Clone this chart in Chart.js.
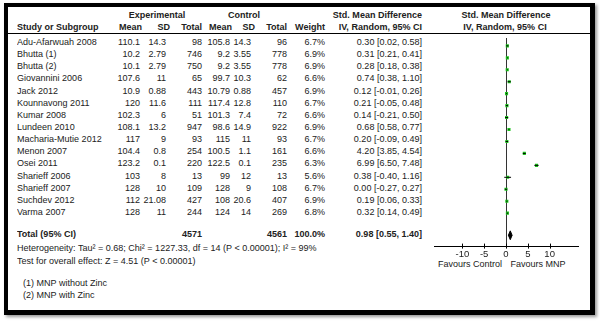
<!DOCTYPE html>
<html>
<head>
<meta charset="utf-8">
<script src="https://cdn.jsdelivr.net/npm/chart.js@4.4.1/dist/chart.umd.min.js"></script>
<style>
  body { margin: 0; background: #fff; width: 600px; height: 322px; overflow: hidden; }
  #frame { position: absolute; left: 4px; top: 3px; width: 582px; height: 303px;
           border: 4px solid #000; border-right-width: 5px; border-bottom-width: 5px;
           box-shadow: 2px 2px 3px #999; }
  #hline { position: absolute; left: 8px; top: 33px; width: 582px; height: 1px; background: #000; }
  .t { position: absolute; font: 9.8px "Liberation Sans", Arial, sans-serif; color: #222;
       line-height: 12px; white-space: nowrap; }
  .b { font-weight: bold; }
  #wrap { position: absolute; left: 430px; top: 34px; width: 152px; height: 228px; }
</style>
</head>
<body>
<div id="frame"></div>
<div id="hline"></div>
<div id="texts"></div>
<div id="wrap"><canvas id="forest" width="152" height="228"></canvas></div>
<script>
const studies = ['Adu-Afarwuah 2008', 'Bhutta (1)', 'Bhutta (2)', 'Giovannini 2006', 'Jack 2012',
  'Kounnavong 2011', 'Kumar 2008', 'Lundeen 2010', 'Macharia-Mutie 2012', 'Menon 2007',
  'Osei 2011', 'Sharieff 2006', 'Sharieff 2007', 'Suchdev 2012', 'Varma 2007'];
const expMean = ['110.1', '10.2', '10.1', '107.6', '10.9', '120', '102.3', '108.1', '117', '104.4', '123.2', '103', '128', '112', '128'];
const expSD = ['14.3', '2.79', '2.79', '11', '0.88', '11.6', '6', '13.2', '9', '0.8', '0.1', '8', '10', '21.08', '11'];
const expTotal = [98, 746, 750, 65, 443, 111, 51, 947, 93, 254, 220, 13, 109, 427, 244];
const ctlMean = ['105.8', '9.2', '9.2', '99.7', '10.79', '117.4', '101.3', '98.6', '115', '100.5', '122.5', '99', '128', '108', '124'];
const ctlSD = ['14.3', '3.55', '3.55', '10.3', '0.88', '12.8', '7.4', '14.9', '11', '1.1', '0.1', '12', '9', '20.6', '14'];
const ctlTotal = [96, 778, 778, 62, 457, 110, 72, 922, 93, 161, 235, 13, 108, 407, 269];
const weights = ['6.7%', '6.9%', '6.9%', '6.6%', '6.9%', '6.7%', '6.6%', '6.9%', '6.7%', '6.6%', '6.3%', '5.6%', '6.7%', '6.9%', '6.8%'];
const smd = [0.30, 0.31, 0.28, 0.74, 0.12, 0.21, 0.14, 0.68, 0.20, 4.20, 6.99, 0.38, 0.00, 0.19, 0.32];
const ciLow = [0.02, 0.21, 0.18, 0.38, -0.01, -0.05, -0.21, 0.58, -0.09, 3.85, 6.50, -0.40, -0.27, 0.06, 0.14];
const ciHigh = [0.58, 0.41, 0.38, 1.10, 0.26, 0.48, 0.50, 0.77, 0.49, 4.54, 7.48, 1.16, 0.27, 0.33, 0.49];
const totalSmd = 0.98, totalLow = 0.55, totalHigh = 1.40;
const xTicks = [-10, -5, 0, 5, 10];

// layout
const rowTop = 42, rowH = 12.14;
const totalRow = 15.85;      // position of the Total line in row units
const diamondHalf = 0.37;
const squeeze = 0.92;        // the original text is a little narrow

const texts = document.getElementById('texts');
function put(txt, x, y, align, bold) {
  const d = document.createElement('div');
  d.className = 't' + (bold ? ' b' : '');
  d.textContent = txt;
  d.style.top = (y - 6) + 'px';
  d.style.left = x + 'px';
  if (align === 'r') {
    d.style.transformOrigin = '100% 50%';
    d.style.transform = `translateX(-100%) scaleX(${squeeze})`;
  } else if (align === 'c') {
    d.style.transformOrigin = '50% 50%';
    d.style.transform = `translateX(-50%) scaleX(${squeeze})`;
  } else {
    d.style.transformOrigin = '0 50%';
    d.style.transform = `scaleX(${squeeze})`;
  }
  texts.appendChild(d);
}
const fmt = v => v.toFixed(2);

// header
put('Experimental', 157, 15, 'c', true);
put('Control', 244, 15, 'c', true);
put('Std. Mean Difference', 421.5, 15, 'r', true);
put('Std. Mean Difference', 505.7, 15, 'c', true);
put('Study or Subgroup', 16.5, 27.3, 'l', true);
put('Mean', 141.5, 27.3, 'r', true);
put('SD', 170, 27.3, 'r', true);
put('Total', 201.7, 27.3, 'r', true);
put('Mean', 232, 27.3, 'r', true);
put('SD', 255, 27.3, 'r', true);
put('Total', 286.7, 27.3, 'r', true);
put('Weight', 325, 27.3, 'r', true);
put('IV, Random, 95% CI', 421.5, 27.3, 'r', true);
put('IV, Random, 95% CI', 505, 27.3, 'c', true);

studies.forEach((s, i) => {
  const y = rowTop + i * rowH;
  put(s, 16.5, y, 'l');
  put(expMean[i], 140, y, 'r');
  put(expSD[i], 166, y, 'r');
  put(String(expTotal[i]), 201.7, y, 'r');
  put(ctlMean[i], 230, y, 'r');
  put(ctlSD[i], 250.5, y, 'r');
  put(String(ctlTotal[i]), 286.7, y, 'r');
  put(weights[i], 324.5, y, 'r');
  put(fmt(smd[i]) + ' [' + fmt(ciLow[i]) + ', ' + fmt(ciHigh[i]) + ']', 421.5, y, 'r');
});

const yTot = rowTop + totalRow * rowH;
put('Total (95% CI)', 16.5, yTot, 'l', true);
put(String(expTotal.reduce((a, b) => a + b, 0)), 201.7, yTot, 'r', true);
put(String(ctlTotal.reduce((a, b) => a + b, 0)), 286.7, yTot, 'r', true);
put('100.0%', 325, yTot, 'r', true);
put(fmt(totalSmd) + ' [' + fmt(totalLow) + ', ' + fmt(totalHigh) + ']', 421.5, yTot, 'r', true);
put('Heterogeneity: Tau\u00b2 = 0.68; Chi\u00b2 = 1227.33, df = 14 (P < 0.00001); I\u00b2 = 99%', 16.5, 247.7, 'l');
put('Test for overall effect: Z = 4.51 (P < 0.00001)', 16.5, 261, 'l');
put('(1) MNP without Zinc', 22.5, 282.7, 'l');
put('(2) MNP with Zinc', 22.5, 295, 'l');
put('Favours Control', 469.5, 264.3, 'c');
put('Favours MNP', 537.5, 264.3, 'c');

// chart data
const ciData = [];
studies.forEach((s, i) => {
  ciData.push({ x: ciLow[i], y: i }, { x: ciHigh[i], y: i }, { x: null, y: null });
});
const pointData = smd.map((v, i) => ({ x: v, y: i }));
const diamondData = [
  { x: totalLow, y: totalRow },
  { x: totalSmd, y: totalRow - diamondHalf },
  { x: totalHigh, y: totalRow },
  { x: totalSmd, y: totalRow + diamondHalf },
  { x: totalLow, y: totalRow }
];

const tickMarks = {
  id: 'tickMarks',
  afterDraw(chart) {
    const s = chart.scales.x, ctx = chart.ctx;
    ctx.save();
    ctx.strokeStyle = '#000';
    ctx.lineWidth = 1;
    s.ticks.forEach(t => {
      const px = Math.round(s.getPixelForValue(t.value)) + 0.5;
      ctx.beginPath();
      ctx.moveTo(px, s.top - 3);
      ctx.lineTo(px, s.top + 2);
      ctx.stroke();
    });
    ctx.restore();
  }
};

new Chart(document.getElementById('forest'), {
  type: 'scatter',
  data: {
    datasets: [
      {
        data: ciData,
        showLine: true,
        spanGaps: false,
        borderColor: '#000',
        borderWidth: 1,
        pointRadius: 0
      },
      {
        data: pointData,
        pointStyle: 'rect',
        pointRadius: 2.2,
        pointBorderWidth: 0,
        backgroundColor: '#1cc41c'
      },
      {
        data: diamondData,
        showLine: true,
        fill: 'shape',
        borderColor: '#000',
        borderWidth: 1,
        backgroundColor: '#000',
        pointRadius: 0,
        tension: 0
      }
    ]
  },
  options: {
    responsive: false,
    animation: false,
    layout: { padding: 0 },
    plugins: { legend: { display: false }, tooltip: { enabled: false } },
    scales: {
      x: {
        type: 'linear',
        min: -16.5,
        max: 16.5,
        afterBuildTicks: s => { s.ticks = xTicks.map(v => ({ value: v })); },
        grid: {
          drawTicks: false,
          lineWidth: 1,
          color: c => (c.tick && c.tick.value === 0) ? '#333' : 'rgba(0,0,0,0)'
        },
        border: { display: true, color: '#000', width: 1 },
        ticks: {
          padding: 2,
          color: '#222',
          font: { family: '"Liberation Sans", Arial, sans-serif', size: 9.5 }
        }
      },
      y: {
        type: 'linear',
        reverse: true,
        min: -0.66,
        max: 16.8,
        display: false
      }
    }
  },
  plugins: [tickMarks]
});
</script>
</body>
</html>
